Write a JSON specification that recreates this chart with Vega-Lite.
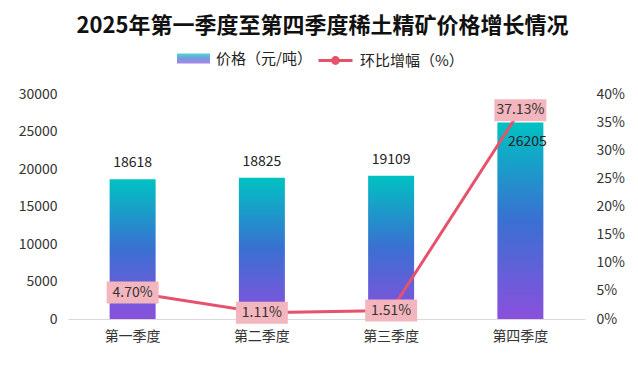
{
  "$schema": "https://vega.github.io/schema/vega-lite/v6.json",
  "autosize": {"type": "none"},
  "width": 517,
  "height": 225,
  "padding": {"left": 68, "top": 94, "right": 53, "bottom": 50},
  "background": "white",
  "config": {
    "font": "Noto Sans CJK SC",
    "view": {"stroke": null},
    "axis": {"labelFont": "Noto Sans CJK SC", "labelColor": "#333333", "labelFontSize": 14, "grid": false, "ticks": false, "domain": false, "title": null},
    "legend": {"labelFont": "Noto Sans CJK SC", "labelFontSize": 15, "labelColor": "#222222"}
  },
  "title": {"text": "2025年第一季度至第四季度稀土精矿价格增长情况", "fontSize": 22, "fontWeight": "bold", "color": "#111111", "anchor": "middle", "frame": "group", "offset": 4, "dx": -4},
  "data": {"values": [
    {"q": "第一季度", "price": 18618, "pct": 0.047},
    {"q": "第二季度", "price": 18825, "pct": 0.0111},
    {"q": "第三季度", "price": 19109, "pct": 0.0151},
    {"q": "第四季度", "price": 26205, "pct": 0.3713}
  ]},
  "encoding": {
    "x": {"field": "q", "type": "nominal", "sort": null, "scale": {"paddingInner": 0, "paddingOuter": 0},
      "axis": {"labelAngle": 0, "labelPadding": 10, "domain": true, "domainColor": "#d9d9d9", "labelFontSize": 14}}
  },
  "layer": [
    {
      "encoding": {"y": {"field": "price", "type": "quantitative", "scale": {"domain": [0, 30000]},
        "axis": {"values": [0, 5000, 10000, 15000, 20000, 25000, 30000], "format": "d", "labelPadding": 11, "labelFontSize": 14}}},
      "layer": [
        {"mark": {"type": "point", "size": 0, "filled": true, "strokeWidth": 0, "fill": {"gradient": "linear", "x1": 0, "y1": 1, "x2": 0, "y2": 0, "stops": [{"offset": 0, "color": "#8a50dd"}, {"offset": 0.5, "color": "#3a70d2"}, {"offset": 1, "color": "#00c2c2"}]}},
          "encoding": {"shape": {"datum": "价格（元/吨）", "type": "nominal", "scale": {"range": ["M-1,-0.3H1V0.3H-1Z"]},
            "legend": {"orient": "none", "legendX": 109, "legendY": -52, "title": null, "symbolSize": 1089, "symbolStrokeWidth": 0, "labelOffset": 6}}}},
        {"mark": {"type": "bar", "size": 46, "color": {"gradient": "linear", "x1": 0, "y1": 1, "x2": 0, "y2": 0, "stops": [{"offset": 0, "color": "#8a50dd"}, {"offset": 0.5, "color": "#3a70d2"}, {"offset": 1, "color": "#00c2c2"}]}}},
        {"transform": [{"filter": "datum.q !== '第四季度'"}],
          "mark": {"type": "text", "baseline": "bottom", "dy": -9, "fontSize": 14, "color": "#222222"},
          "encoding": {"text": {"field": "price", "type": "quantitative", "format": "d"}}},
        {"transform": [{"filter": "datum.q === '第四季度'"}],
          "mark": {"type": "text", "baseline": "top", "dy": 13, "dx": 7, "fontSize": 14, "color": "#222222"},
          "encoding": {"text": {"field": "price", "type": "quantitative", "format": "d"}}}
      ]
    },
    {
      "encoding": {"y": {"field": "pct", "type": "quantitative", "scale": {"domain": [0, 0.4]},
        "axis": {"orient": "right", "format": ".0%", "values": [0, 0.05, 0.1, 0.15, 0.2, 0.25, 0.3, 0.35, 0.4], "labelPadding": 11, "labelFontSize": 14}}},
      "layer": [
        {"mark": {"type": "line", "strokeWidth": 3},
          "encoding": {"stroke": {"datum": "环比增幅（%）", "type": "nominal", "scale": {"range": ["#e6526b"]},
            "legend": {"orient": "none", "legendX": 249, "legendY": -52, "title": null, "symbolType": "M-1,0H1M0.17,0A0.17,0.17 0 1,1 -0.17,0A0.17,0.17 0 1,1 0.17,0", "symbolSize": 1156, "symbolStrokeWidth": 3, "symbolFillColor": "#e6526b", "labelOffset": 6}}}},
        {"mark": {"type": "point", "shape": "M-1,-0.423H1V0.423H-1Z", "size": 2704, "filled": true, "color": "#f4b6be", "opacity": 1}},
        {"mark": {"type": "text", "fontSize": 14, "color": "#333333"},
          "encoding": {"text": {"field": "pct", "type": "quantitative", "format": ".2%"}}}
      ]
    }
  ],
  "resolve": {"scale": {"y": "independent", "shape": "independent", "stroke": "independent"}, "legend": {"shape": "independent", "stroke": "independent"}}
}
